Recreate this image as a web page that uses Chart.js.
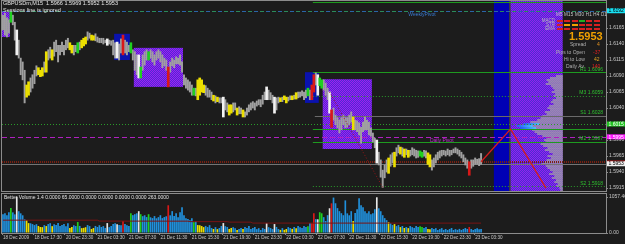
<!DOCTYPE html>
<html><head><meta charset="utf-8">
<script src="https://cdn.jsdelivr.net/npm/chart.js@4.4.1/dist/chart.umd.min.js"></script>
<style>
html,body{margin:0;padding:0;background:#1c1c1c;}
body{width:625px;height:244px;overflow:hidden;position:relative;font-family:"Liberation Sans",Arial,sans-serif;}
canvas{position:absolute;left:0;}
#main{top:0}
#vol{top:192px}
.t{position:absolute;white-space:nowrap;line-height:1;}
.cell{position:absolute;width:6px;height:2px;}
</style></head><body>
<canvas id="main" width="625" height="192"></canvas>
<canvas id="vol" width="625" height="52"></canvas>

<div class="t" style="left:3px;top:1px;font-size:5.5px;color:#e8e8e8">GBPUSDm,M15&nbsp; 1.5966 1.5969 1.5952 1.5953</div>
<div class="t" style="left:3px;top:8px;font-size:5.5px;color:#e8e8e8">Sessions line is ignored</div>
<div class="t" style="left:4px;top:195px;font-size:5px;color:#e0e0e0">Better Volume 1.4 0.0000 65.0000 0.0000 0.0000 0.0000 0.0000 263.0000</div>

<div class="t" style="left:556px;top:13px;font-size:4.5px;color:#c8c8c8;letter-spacing:0.2px">M5 M15 M30 H1 H4 D1</div>
<div class="t" style="left:538px;top:19px;font-size:4.5px;color:#b8b8b8;width:17px;text-align:right">MACD</div>
<div class="t" style="left:538px;top:23px;font-size:4.5px;color:#b8b8b8;width:17px;text-align:right">STR</div>
<div class="t" style="left:538px;top:27px;font-size:4.5px;color:#b8b8b8;width:17px;text-align:right">EMA</div>
<div id="cells"></div>
<div class="t" style="left:569px;top:31px;font-size:11px;font-weight:bold;color:#f0a000">1.5953</div>
<div class="t" style="left:570px;top:42px;font-size:5px;color:#b0b0b0">Spread</div>
<div class="t" style="left:597px;top:42px;font-size:5px;color:#e09020">4</div>
<div class="t" style="left:556px;top:50px;font-size:5px;color:#b0b0b0">Pips to Open</div>
<div class="t" style="left:593px;top:50px;font-size:5px;color:#e02020">-37</div>
<div class="t" style="left:564px;top:57px;font-size:5px;color:#b0b0b0">Hi to Low</div>
<div class="t" style="left:594px;top:57px;font-size:5px;color:#e0a020">42</div>
<div class="t" style="left:566px;top:64px;font-size:5px;color:#b0b0b0">Daily Av</div>
<div class="t" style="left:592px;top:64px;font-size:5px;color:#e02020">140</div>

<script>
// ================= DATA =================
const timeLabels = ["18 Dec 2009","18 Dec 17:30","20 Dec 23:30","21 Dec 03:30","21 Dec 07:30","21 Dec 11:30","21 Dec 15:30","21 Dec 19:30","21 Dec 23:30","22 Dec 03:30","22 Dec 07:30","22 Dec 11:30","22 Dec 15:30","22 Dec 19:30","22 Dec 23:30","23 Dec 03:30"];
const priceTicks = [1.5915,1.5940,1.5965,1.5990,1.6015,1.6040,1.6065,1.6090,1.6115,1.6140,1.6165,1.6190];
const volumeTicks = [0, 1057.46];
const totalSlots = 307;

const highs = [
1.6185,1.6188,1.6181,1.6178,1.6190,1.6185,1.6174,1.6162,1.6146,1.6118,
1.6112,1.6099,1.6076,1.6081,1.6087,1.6092,1.6099,1.6106,1.6103,1.6099,
1.6103,1.6112,1.6128,1.6131,1.6135,1.6131,1.6143,1.6146,1.6138,1.6138,
1.6143,1.6138,1.6146,1.6149,1.6142,1.6138,1.6138,1.6138,1.6142,1.6143,
1.6146,1.6149,1.6151,1.6159,1.6157,1.6154,1.6153,1.6156,1.6151,1.6149,
1.6149,1.6149,1.6146,1.6148,1.6146,1.6145,1.6146,1.6142,1.6143,1.6140,1.6148,
1.6154,1.6146,1.6143,1.6138,1.6142,1.6131,1.6128,1.6123,1.6123,1.6104,
1.6123,1.6128,1.6131,1.6128,1.6131,1.6128,1.6123,1.6128,1.6131,1.6128,
1.6123,1.6118,1.6115,1.6104,1.6112,1.6118,1.6115,1.6120,1.6118,1.6123,
1.6112,1.6092,1.6087,1.6084,1.6081,1.6076,1.6071,1.6071,1.6084,1.6087,
1.6084,1.6076,1.6075,1.6071,1.6068,1.6065,1.6060,1.6059,1.6057,1.6056,
1.6056,1.6057,1.6053,1.6048,1.6045,1.6045,1.6048,1.6048,1.6040,1.6042,1.6040,
1.6037,1.6034,1.6040,1.6045,1.6048,1.6050,1.6048,1.6051,1.6053,1.6053,
1.6060,1.6065,1.6073,1.6068,1.6064,1.6060,1.6057,1.6056,1.6057,1.6056,
1.6057,1.6059,1.6057,1.6057,1.6059,1.6059,1.6060,1.6064,1.6065,1.6065,
1.6067,1.6065,1.6068,1.6071,1.6068,1.6076,1.6092,1.6095,1.6092,1.6087,
1.6084,1.6084,1.6079,1.6071,1.6065,1.6037,1.6040,1.6029,1.6025,1.6021,
1.6025,1.6029,1.6025,1.6025,1.6029,1.6034,1.6026,1.6021,1.6020,1.6017,1.6010,
1.6018,1.6026,1.6021,1.6018,1.6009,1.6001,1.5993,1.5990,1.5971,1.5959,
1.5943,1.5951,1.5959,1.5962,1.5967,1.5970,1.5971,1.5978,1.5982,1.5979,
1.5978,1.5976,1.5976,1.5974,1.5974,1.5978,1.5976,1.5974,1.5973,1.5973,
1.5971,1.5974,1.5973,1.5970,1.5967,1.5959,1.5962,1.5967,1.5971,1.5973,
1.5974,1.5974,1.5973,1.5976,1.5974,1.5974,1.5976,1.5978,1.5976,1.5974,
1.5971,1.5967,1.5962,1.5959,1.5956,1.5959,1.5959,1.5962,1.5960,1.5961,1.5969];

const lows = [
1.6162,1.6154,1.6151,1.6157,1.6174,1.6170,1.6146,1.6123,1.6118,1.6092,
1.6084,1.6048,1.6057,1.6060,1.6065,1.6071,1.6078,1.6090,1.6092,1.6089,
1.6090,1.6096,1.6096,1.6115,1.6118,1.6115,1.6121,1.6128,1.6112,1.6123,
1.6128,1.6123,1.6131,1.6134,1.6131,1.6126,1.6123,1.6128,1.6126,1.6131,
1.6134,1.6137,1.6140,1.6146,1.6149,1.6146,1.6146,1.6145,1.6143,1.6142,
1.6142,1.6140,1.6142,1.6138,1.6140,1.6138,1.6123,1.6118,1.6118,1.6115,1.6126,
1.6123,1.6126,1.6123,1.6128,1.6126,1.6115,1.6099,1.6092,1.6087,1.6087,
1.6099,1.6107,1.6115,1.6115,1.6118,1.6112,1.6107,1.6115,1.6118,1.6112,
1.6103,1.6106,1.6099,1.6073,1.6096,1.6106,1.6103,1.6109,1.6109,1.6107,
1.6096,1.6076,1.6071,1.6068,1.6065,1.6060,1.6060,1.6059,1.6053,1.6060,
1.6065,1.6064,1.6060,1.6057,1.6057,1.6053,1.6051,1.6048,1.6050,1.6048,
1.6048,1.6026,1.6037,1.6034,1.6029,1.6032,1.6034,1.6037,1.6029,1.6031,1.6031,
1.6026,1.6026,1.6029,1.6034,1.6037,1.6040,1.6037,1.6043,1.6045,1.6042,
1.6046,1.6053,1.6053,1.6053,1.6053,1.6048,1.6032,1.6037,1.6048,1.6050,
1.6050,1.6053,1.6048,1.6051,1.6053,1.6053,1.6054,1.6054,1.6056,1.6057,
1.6059,1.6053,1.6056,1.6059,1.6053,1.6053,1.6065,1.6076,1.6060,1.6075,
1.6071,1.6068,1.6060,1.6053,1.6032,1.6010,1.6021,1.6014,1.6009,1.6001,
1.6006,1.6014,1.6009,1.6010,1.6014,1.6018,1.6006,1.6006,1.6003,1.5998,1.5985,
1.6003,1.6006,1.6006,1.5998,1.5996,1.5987,1.5978,1.5954,1.5951,1.5932,
1.5916,1.5931,1.5940,1.5938,1.5949,1.5954,1.5948,1.5965,1.5970,1.5968,
1.5965,1.5963,1.5967,1.5963,1.5965,1.5967,1.5965,1.5962,1.5963,1.5965,
1.5963,1.5965,1.5962,1.5952,1.5948,1.5943,1.5948,1.5954,1.5959,1.5962,
1.5965,1.5967,1.5965,1.5967,1.5965,1.5967,1.5970,1.5970,1.5968,1.5965,
1.5962,1.5956,1.5951,1.5946,1.5935,1.5946,1.5949,1.5952,1.5952,1.5950,1.5952];

const volumes = [
551,584,522,612,731,606,548,1057,640,578,
520,405,378,291,286,262,233,259,205,176,
172,231,204,262,288,201,259,236,292,206,
232,263,199,287,147,175,228,204,322,208,
143,151,170,234,203,118,146,207,177,229,
176,203,149,291,172,206,262,288,259,234,228,
351,262,231,206,583,524,552,579,641,553,
494,521,468,552,462,438,497,432,466,523,
437,468,492,815,519,642,496,581,463,610,
756,524,433,409,377,436,321,349,233,228,
204,173,208,175,231,146,118,172,113,147,
206,292,201,176,119,148,171,142,88,116,149,
117,173,144,206,121,146,177,114,142,89,
148,119,289,171,146,116,263,178,117,91,
144,92,118,173,147,121,176,143,204,171,
149,206,174,201,292,288,584,408,402,611,
579,466,352,524,727,872,1041,874,731,642,
582,523,958,577,521,641,351,586,697,1019,813,
757,639,584,642,553,581,698,1050,726,640,
523,437,378,321,289,233,262,203,234,174,
206,147,176,143,204,172,149,207,173,201,
174,146,177,119,113,148,118,142,87,116,
144,91,117,86,118,147,89,114,92,121,
88,117,146,119,176,118,89,116,143,112,121];

// n = normal, y = yellow, w = white, g = green, r = red
const barTypes = ("nnnngnnwnn"+"nnyynnnnyy"+"ynynnynnnn"+"nnnnyynngn"+"yyynnyynnn"+"nnnwnnnnwnn"+
  "rnnngnnnwg"+"nnngnnnnnn"+"nnnrnnnnnn"+"nnnnnngnyy"+"yynnnnynyn"+"nwnnyynnynn"+
  "ynnnnnnnnn"+"nnwnnnwnny"+"nyynnynynn"+"nnngnrrnwg"+"gnnnwrnnnn"+"nnnnnnynnnn"+
  "nnnnnnnwnn"+"nnnynnynny"+"nynynnnnng"+"gnnyynnnnn"+"nnnnnnnnnn"+"nnnnrnnnnnn").split('');

const volMaIdx = [0, 48, 49, 94, 95, 114, 115, 126, 127, 243];
const volMaVal = [377, 377, 350, 348, 334, 333, 320, 319, 292, 290];

const zigzagIdx = [243, 258, 276];
const zigzagVal = [1.5956, 1.6007, 1.5915];
const trendIdx = [166, 193];
const trendVal = [1.6065, 1.5916];

const boxFrom = [0, 57, 67, 154, 163];
const boxTo   = [3, 64, 91, 160, 187];
const boxHigh = [1.6190, 1.6156, 1.6134, 1.6096, 1.6085];
const boxLow  = [1.6151, 1.6115, 1.6073, 1.6048, 1.5976];
const boxKind = ["purple","blue","purple","blue","purple"];

const bandFrom = [250, 258];
const bandTo   = [257, 284];
const bandKind = ["blue","purple"];

const levelPrice = [1.6206, 1.6192, 1.6096, 1.6059, 1.6028, 1.6015, 1.6007, 1.5995, 1.5987, 1.5956, 1.5953, 1.5918];
const levelFrom  = [158, 0, 158, 158, 159, 0, 158, 0, 158, 0, 0, 158];
const levelKind  = ["green","weekly","green","greenDot","gray","greenDot","green","daily","green","redDot","current","greenDot"];
const levelText  = ["", "WeeklyPivot", "R1 1.6096", "M3 1.6059", "S1 1.6028", "", "", "Daily Pivot", "M2 1.5987", "", "", "S2 1.5918"];

const tagPrice = [1.6192, 1.6015, 1.5995, 1.5956, 1.5953];
const tagText  = ["1.6192", "1.6015", "1.5995", "", "1.5953"];

const profilePrice = [1.60900,1.60869,1.60838,1.60807,1.60775,1.60744,1.60713,1.60681,1.60650,1.60619,
1.60588,1.60557,1.60525,1.60494,1.60463,1.60432,1.60400,1.60369,1.60338,1.60307,
1.60275,1.60244,1.60213,1.60182,1.60150,1.60119,1.60088,1.60057,1.60025,1.59994,
1.59963,1.59932,1.59900,1.59869,1.59838,1.59807,1.59775,1.59744,1.59713,1.59682,
1.59650,1.59619,1.59588,1.59557,1.59525,1.59494,1.59463,1.59432,1.59400,1.59369,
1.59338,1.59307,1.59275,1.59244,1.59213,1.59182,1.59150,1.59119];
const profileCount = [8,15,19,17,20,14,12,10,13,9,
11,8,12,14,11,16,18,15,21,19,
24,26,30,38,46,54,50,36,33,30,
24,19,22,20,26,23,18,21,16,12,
18,14,19,22,25,20,18,15,12,16,
10,13,8,10,6,8,4,3];

// ================= STYLE =================
const typeColor = {n:'#a0a0a0', y:'#ecdf00', w:'#f2f2f2', g:'#1fd01f', r:'#d81818'};
const volColor  = {n:'#2090dc', y:'#ecdf00', w:'#e8e8e8', g:'#1fd01f', r:'#d81818'};
const levelStyle = {
  green:   {color:'#1f9a1f', width:1, dash:[], text:'#2fc02f'},
  greenDot:{color:'#2a9a2a', width:1, dash:[1,2], text:'#2fc02f'},
  gray:    {color:'#6a6a6a', width:1, dash:[], text:'#2fc02f'},
  weekly:  {color:'#2a64a8', width:1, dash:[4,8], color2:'#2a8a5a', text:'#3a7ad0', labelSlot:206},
  daily:   {color:'#b020c0', width:1, dash:[5,3], text:'#c030d0', labelSlot:217},
  redDot:  {color:'#7a2012', width:2, dash:[1,1], text:'#c02020'},
  current: {color:'#747474', width:1, dash:[], text:'#ffffff'}
};
const tagStyle = [
  {bg:'#19e3f5', fg:'#000000'},
  {bg:'#22c422', fg:'#ffffff'},
  {bg:'#ff18ff', fg:'#ffffff'},
  {bg:'#d01818', fg:'#ffffff'},
  {bg:'#f0f0f0', fg:'#000000'}
];
const FONT = '"Liberation Sans", Arial, sans-serif';

// info panel cells
const cellRows = [["#d82020","#d82020","#d82020","#20b020","#d82020","#d82020"],
                  ["#d82020","#f0a000","#f0a000","#d82020","#d82020","#d82020"],
                  ["#d82020","#d82020","#d82020","#d82020","#d82020","#d82020"]];
(function(){
  const host = document.getElementById('cells');
  cellRows.forEach((row,r)=>row.forEach((c,k)=>{
    const d=document.createElement('div'); d.className='cell';
    d.style.left=(557+k*7.3)+'px'; d.style.top=(20+r*4.2)+'px'; d.style.background=c;
    host.appendChild(d);
  }));
})();

// ================= BUILD =================
const labels = Array.from({length: totalSlots}, (_, i) => i);
const grayData = highs.map((h, j) => barTypes[j] === 'n' ? [lows[j], h] : null);
const colData  = highs.map((h, j) => barTypes[j] !== 'n' ? [lows[j], h] : null);
const colColors = barTypes.map(t => typeColor[t]);
const sparse = (idx, val) => { const a = new Array(totalSlots).fill(null); idx.forEach((j,k)=>a[j]=val[k]); return a; };

function makePattern(ctx, a, b) {
  const c = document.createElement('canvas'); c.width = 2; c.height = 2;
  const g = c.getContext('2d');
  g.fillStyle = a; g.fillRect(0,0,2,2);
  g.fillStyle = b; g.fillRect(0,0,1,1); g.fillRect(1,1,1,1);
  return ctx.createPattern(c, 'repeat');
}

const mainDecor = {
  id: 'mainDecor',
  beforeDatasetsDraw(chart) {
    const {ctx, chartArea: a, scales} = chart;
    const x = scales.x, y = scales.y, xp = scales.xp;
    const half = (x.getPixelForValue(1) - x.getPixelForValue(0)) / 2;
    const L = j => x.getPixelForValue(j) - half;
    const R = j => x.getPixelForValue(j) + half;
    ctx.save();
    ctx.beginPath(); ctx.rect(a.left, a.top, a.width, a.height); ctx.clip();
    const purpleBox = makePattern(ctx, '#4e2ad6', '#a01ef0');
    const purpleBand = makePattern(ctx, '#4a2ed2', '#9420f0');
    bandFrom.forEach((f, k) => {
      ctx.fillStyle = bandKind[k] === 'blue' ? '#0000b4' : purpleBand;
      ctx.fillRect(L(f), a.top, R(bandTo[k]) - L(f), a.height);
    });
    ctx.fillStyle = '#3a3a3a';
    ctx.fillRect(R(bandTo[0]) - 0.5, a.top, 1.5, a.height);
    boxFrom.forEach((f, k) => {
      const t = y.getPixelForValue(boxHigh[k]), b = y.getPixelForValue(boxLow[k]);
      ctx.fillStyle = boxKind[k] === 'blue' ? '#0a12ae' : purpleBox;
      ctx.fillRect(L(f), t, R(boxTo[k]) - L(f), b - t);
    });
    const maxC = Math.max(...profileCount);
    profilePrice.forEach((p, k) => {
      const yy = y.getPixelForValue(p);
      const x0 = xp.getPixelForValue(0), x1 = xp.getPixelForValue(profileCount[k]);
      ctx.fillStyle = '#a4a4a4';
      ctx.fillRect(x1, yy - 0.7, x0 - x1, 1.4);
      if (profileCount[k] >= maxC * 0.85) {
        const gr = ctx.createLinearGradient(x1, 0, x1 + 16, 0);
        gr.addColorStop(0, '#1a50ff'); gr.addColorStop(1, '#40c8ff');
        ctx.fillStyle = gr; ctx.fillRect(x1, yy - 0.9, 16, 1.8);
      }
    });
    levelPrice.forEach((p, k) => {
      const st = levelStyle[levelKind[k]];
      const yy = Math.round(y.getPixelForValue(p)) + (st.width === 2 ? 0 : 0.5);
      ctx.lineWidth = st.width;
      ctx.setLineDash(st.dash);
      ctx.strokeStyle = st.color; ctx.lineDashOffset = 0;
      ctx.beginPath(); ctx.moveTo(L(levelFrom[k]), yy); ctx.lineTo(a.right, yy); ctx.stroke();
      if (st.color2) {
        ctx.strokeStyle = st.color2; ctx.lineDashOffset = 6;
        ctx.beginPath(); ctx.moveTo(L(levelFrom[k]), yy); ctx.lineTo(a.right, yy); ctx.stroke();
      }
    });
    ctx.restore();
  },
  afterDatasetsDraw(chart) {
    const {ctx, chartArea: a, scales: {x, y}} = chart;
    ctx.save();
    ctx.font = '5px ' + FONT;
    levelPrice.forEach((p, k) => {
      const txt = levelText[k]; if (!txt) return;
      const st = levelStyle[levelKind[k]];
      const yy = y.getPixelForValue(p);
      ctx.fillStyle = st.text;
      if (st.labelSlot !== undefined) {
        ctx.textAlign = 'left'; ctx.textBaseline = 'top';
        ctx.fillText(txt, x.getPixelForValue(st.labelSlot), yy + 1);
      } else {
        ctx.textAlign = 'right'; ctx.textBaseline = 'bottom';
        ctx.fillText(txt, a.right - 3, yy - 0.5);
      }
    });
    ctx.restore();
  },
  afterDraw(chart) {
    const {ctx, chartArea: a, scales: {y}} = chart;
    ctx.save();
    ctx.strokeStyle = '#8c8c8c'; ctx.lineWidth = 1; ctx.setLineDash([]);
    ctx.strokeRect(a.left - 0.5, a.top - 0.5, a.right - a.left + 1, a.bottom - a.top + 1);
    ctx.font = '5px ' + FONT;
    ctx.textBaseline = 'middle'; ctx.textAlign = 'left';
    tagPrice.forEach((p, k) => {
      const yy = y.getPixelForValue(p);
      const st = tagStyle[k];
      const h = tagText[k] ? 5 : 2.5;
      ctx.fillStyle = st.bg;
      ctx.fillRect(a.right + 1, yy - h / 2, 18, h);
      if (tagText[k]) { ctx.fillStyle = st.fg; ctx.fillText(tagText[k], a.right + 2.5, yy + 0.3); }
    });
    ctx.restore();
  }
};

const fixAxis = (w) => function(scale) {
  if (w) scale.width = w;
  scale.paddingTop = 0; scale.paddingBottom = 0; scale.paddingLeft = 0; scale.paddingRight = 0;
};

new Chart(document.getElementById('main'), {
  type: 'bar',
  data: {
    labels,
    datasets: [
      {data: grayData, backgroundColor: typeColor.n, barThickness: 1.3, grouped: false, order: 3},
      {data: colData, backgroundColor: colColors, barThickness: 2, grouped: false, order: 2},
      {type: 'line', data: sparse(trendIdx, trendVal), spanGaps: true, borderColor: '#9a1818', borderWidth: 1, borderDash: [1, 2], pointRadius: 0, order: 1},
      {type: 'line', data: sparse(zigzagIdx, zigzagVal), spanGaps: true, borderColor: '#d41c1c', borderWidth: 1.3, pointRadius: 0, order: 0}
    ]
  },
  options: {
    responsive: false, animation: false, devicePixelRatio: 1,
    layout: {padding: {left: 2, top: 1, right: 0, bottom: 1}},
    plugins: {legend: {display: false}, tooltip: {enabled: false}},
    scales: {
      x: {type: 'category', display: false, offset: true},
      xp: {type: 'linear', axis: 'x', display: false, min: 0, max: 604, reverse: true},
      y: {
        position: 'right', min: 1.59104, max: 1.62072,
        afterBuildTicks: s => { s.ticks = priceTicks.map(v => ({value: v})); },
        afterFit: fixAxis(19),
        border: {display: false},
        grid: {drawOnChartArea: false, tickLength: 2, color: '#8c8c8c'},
        ticks: {padding: 1, color: '#c8c8c8', font: {size: 5, family: FONT}, callback: v => Number(v).toFixed(4)}
      }
    }
  },
  plugins: [mainDecor]
});

const volDecor = {
  id: 'volDecor',
  afterDraw(chart) {
    const {ctx, chartArea: a} = chart;
    ctx.save();
    ctx.strokeStyle = '#8c8c8c'; ctx.lineWidth = 1;
    ctx.strokeRect(a.left - 0.5, a.top - 0.5, a.right - a.left + 1, a.bottom - a.top + 1);
    ctx.restore();
  }
};

new Chart(document.getElementById('vol'), {
  type: 'bar',
  data: {
    labels,
    datasets: [
      {data: volumes, backgroundColor: barTypes.map(t => volColor[t]), barPercentage: 0.85, categoryPercentage: 1, order: 2},
      {type: 'line', data: sparse(volMaIdx, volMaVal), spanGaps: true, borderColor: '#7a1414', borderWidth: 1, pointRadius: 0, order: 1}
    ]
  },
  options: {
    responsive: false, animation: false, devicePixelRatio: 1,
    layout: {padding: {left: 2, top: 2, right: 0, bottom: 0}},
    plugins: {legend: {display: false}, tooltip: {enabled: false}},
    scales: {
      x: {
        type: 'category', offset: true,
        afterFit: s => { s.height = 11; s.paddingLeft = 0; s.paddingRight = 0; },
        border: {display: false},
        grid: {drawOnChartArea: false, tickLength: 2, color: c => (c.index % 16 === 0 && c.index / 16 < timeLabels.length) ? '#8c8c8c' : 'rgba(0,0,0,0)'},
        ticks: {autoSkip: false, maxRotation: 0, minRotation: 0, align: 'start', padding: 0, color: '#c8c8c8', font: {size: 4.6, family: FONT},
          callback: (v, i) => (i % 16 === 0 && i / 16 < timeLabels.length) ? timeLabels[i / 16] : ''}
      },
      y: {
        position: 'right', min: 0, max: 1146,
        afterBuildTicks: s => { s.ticks = volumeTicks.map(v => ({value: v})); },
        afterFit: fixAxis(19),
        border: {display: false},
        grid: {drawOnChartArea: false, tickLength: 2, color: '#8c8c8c'},
        ticks: {padding: 1, color: '#c8c8c8', font: {size: 5, family: FONT}, callback: v => Number(v).toFixed(2)}
      }
    }
  },
  plugins: [volDecor]
});
</script>
</body></html>
